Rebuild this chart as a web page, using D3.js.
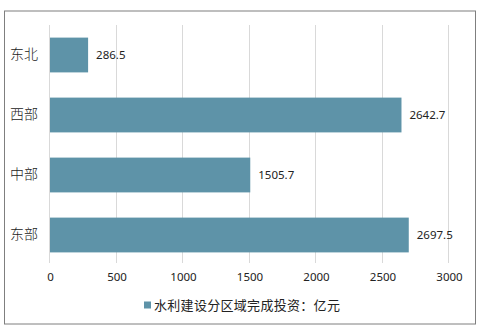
<!DOCTYPE html>
<html>
<head>
<meta charset="utf-8">
<script src="https://cdn.jsdelivr.net/npm/d3@7"></script>
<style>
  body { margin: 0; background: #fff; }
  text { font-family: "Noto Sans CJK SC", "Noto Sans", sans-serif; fill: #222; }
</style>
</head>
<body>
<div id="chart-area"></div>
<script>
const regions = ['东北', '西部', '中部', '东部'];
const values = [286.5, 2642.7, 1505.7, 2697.5];
const ticks = [0, 500, 1000, 1500, 2000, 2500, 3000];
const legendLabel = '水利建设分区域完成投资：亿元';

const chartSize = { width: 481, height: 329 };
const margin = { left: 50, right: 32, top: 25, bottom: 64 };
const width = 399;
const height = 240;

const svg = d3.select('#chart-area').append('svg')
  .attr('width', chartSize.width)
  .attr('height', chartSize.height);

svg.append('rect')
  .attr('x', 4.5).attr('y', 11)
  .attr('width', 471).attr('height', 313)
  .attr('fill', '#fff')
  .attr('stroke', '#7f7f7f')
  .attr('stroke-width', 1);

const g = svg.append('g')
  .attr('transform', `translate(${margin.left},${margin.top})`);

const x = d3.scaleLinear().domain([0, 3000]).range([0, width]);
const y = d3.scaleBand().domain(regions).range([0, height]).paddingInner(0.42).paddingOuter(0.21);

// grid lines
g.selectAll('.grid')
  .data(ticks)
  .join('line')
  .attr('class', 'grid')
  .attr('x1', d => Math.round(x(d)) - 0.5)
  .attr('x2', d => Math.round(x(d)) - 0.5)
  .attr('y1', 0)
  .attr('y2', height - 2)
  .attr('stroke', '#d9d9d9');

// x axis labels
const xAxis = d3.axisBottom(x).tickValues(ticks).tickFormat(d3.format('d')).tickSize(0).tickPadding(8);
g.append('g')
  .attr('class', 'x axis')
  .attr('transform', `translate(0,${height})`)
  .call(xAxis)
  .call(a => a.select('.domain').remove())
  .selectAll('text')
  .style('font-size', '11.5px')
  .style('font-family', '"Noto Sans", sans-serif')
  .attr('fill', '#333');

// y axis labels
const yAxis = d3.axisLeft(y).tickSize(0).tickPadding(12);
g.append('g')
  .attr('class', 'y axis')
  .call(yAxis)
  .call(a => a.select('.domain').remove())
  .selectAll('text')
  .style('font-size', '14px')
  .style('font-weight', '300')
  .attr('fill', '#222');

// bars
g.selectAll('.bar')
  .data(regions)
  .join('rect')
  .attr('class', 'bar')
  .attr('x', 0)
  .attr('y', d => y(d))
  .attr('width', (d, i) => x(values[i]))
  .attr('height', y.bandwidth())
  .attr('fill', '#5e93a8');

// value labels
g.selectAll('.val')
  .data(regions)
  .join('text')
  .attr('class', 'val')
  .attr('x', (d, i) => x(values[i]) + 8)
  .attr('y', d => y(d) + y.bandwidth() / 2)
  .attr('dy', '0.35em')
  .style('font-size', '11.5px')
  .style('font-family', '"Noto Sans", sans-serif')
  .text((d, i) => values[i].toFixed(1));

// legend
const legend = svg.append('g').attr('transform', 'translate(144,305)');
legend.append('rect')
  .attr('x', 0).attr('y', -3.5)
  .attr('width', 7).attr('height', 7)
  .attr('fill', '#5e93a8');
legend.append('text')
  .attr('x', 10)
  .attr('dy', '0.35em')
  .style('font-size', '13px')
  .style('letter-spacing', '0.3px')
  .text(legendLabel);
</script>
</body>
</html>
